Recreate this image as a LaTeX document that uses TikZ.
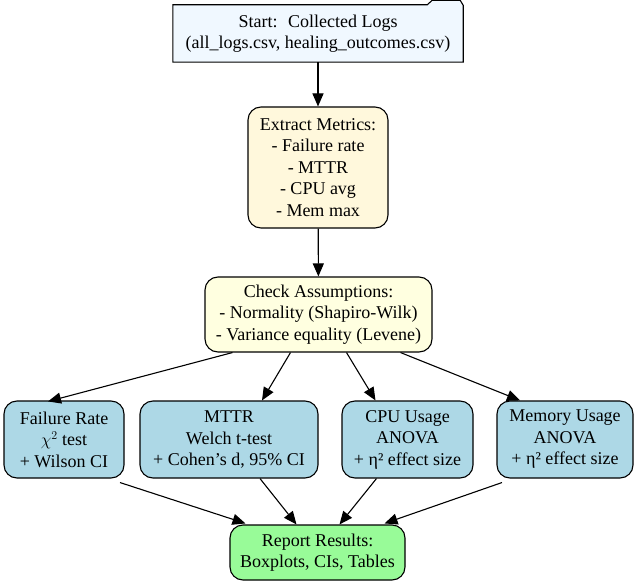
\documentclass[tikz,border=0pt]{standalone}
\usepackage{fontspec}
\setmainfont{Liberation Serif}
\usetikzlibrary{arrows.meta,calc}
\definecolor{startfill}{HTML}{F0F8FF}
\definecolor{extractfill}{HTML}{FFF8DC}
\definecolor{checkfill}{HTML}{FFFFE0}
\definecolor{testfill}{HTML}{ADD8E6}
\definecolor{reportfill}{HTML}{98FB98}
\begin{document}
\begin{tikzpicture}[x=1pt,y=-1pt,
  txt/.style={align=center,font=\fontsize{18}{21.5}\selectfont,inner sep=0pt},
  box/.style={txt,draw=black,line width=1.1pt,rounded corners=13pt},
  conn/.style={line width=1.1pt,-{Triangle[length=13pt,width=11pt]}}]
\useasboundingbox (0,0) rectangle (638,586);
% start (folder)
\node[txt,minimum width=290pt,minimum height=57pt] (start) at (318,33.5) {};
\filldraw[fill=startfill,draw=black,line width=1.1pt]
  (start.south west) -- (start.north west) -- ([xshift=-36pt]start.north east)
  -- ([xshift=-31pt,yshift=4.5pt]start.north east) -- ([xshift=-3pt,yshift=4.5pt]start.north east)
  -- ([yshift=-0.5pt]start.north east) -- (start.south east) -- cycle;
\node[txt] (starttext) at (start.center)
  {Start:~ Collected Logs\\(all\_logs.csv, healing\_outcomes.csv)};
\node[box,fill=extractfill,minimum width=140pt,minimum height=121pt] (extract) at (318,167.5)
  {Extract Metrics:\\- Failure rate\\- MTTR\\- CPU avg\\- Mem max};
\node[box,fill=checkfill,minimum width=227pt,minimum height=75pt] (check) at (318.5,314.5)
  {Check Assumptions:\\- Normality (Shapiro-Wilk)\\- Variance equality (Levene)};
\node[box,fill=testfill,minimum width=120pt,minimum height=77pt] (fail) at (64,439.5)
  {Failure Rate\\$\chi^2$ test\\+ Wilson CI};
\node[box,fill=testfill,minimum width=178pt,minimum height=77pt] (mttr) at (229,439.5)
  {MTTR\\Welch t-test\\+ Cohen’s d, 95\% CI};
\node[box,fill=testfill,minimum width=131pt,minimum height=77pt] (cpu) at (407.5,439.5)
  {CPU Usage\\ANOVA\\+ η² effect size};
\node[box,fill=testfill,minimum width=136pt,minimum height=77pt] (mem) at (565,439.5)
  {Memory Usage\\ANOVA\\+ η² effect size};
\node[box,fill=reportfill,minimum width=175pt,minimum height=55pt] (report) at (317.5,552.5)
  {Report Results:\\Boxplots, CIs, Tables};
% connectors
\draw[conn] (start) -- (extract);
\draw[conn] (extract) -- (check);
\draw[conn] ([xshift=-86pt]check.south) -- ([xshift=-16pt,yshift=-1pt]fail.north);
\draw[conn] ([xshift=-28pt]check.south) -- ([xshift=33pt]mttr.north);
\draw[conn] ([xshift=28pt]check.south) -- ([xshift=-32pt]cpu.north);
\draw[conn] ([xshift=82pt]check.south) -- ([xshift=-45pt]mem.north);
\draw[conn] ([xshift=56pt,yshift=-4pt]fail.south) -- ([xshift=-72pt,yshift=1pt]report.north);
\draw[conn] ([xshift=31pt]mttr.south) -- ([xshift=-21pt]report.north);
\draw[conn] ([xshift=-31pt]cpu.south) -- ([xshift=22pt]report.north);
\draw[conn] ([xshift=-63pt,yshift=-4pt]mem.south) -- ([xshift=67pt,yshift=1pt]report.north);
\end{tikzpicture}
\end{document}
